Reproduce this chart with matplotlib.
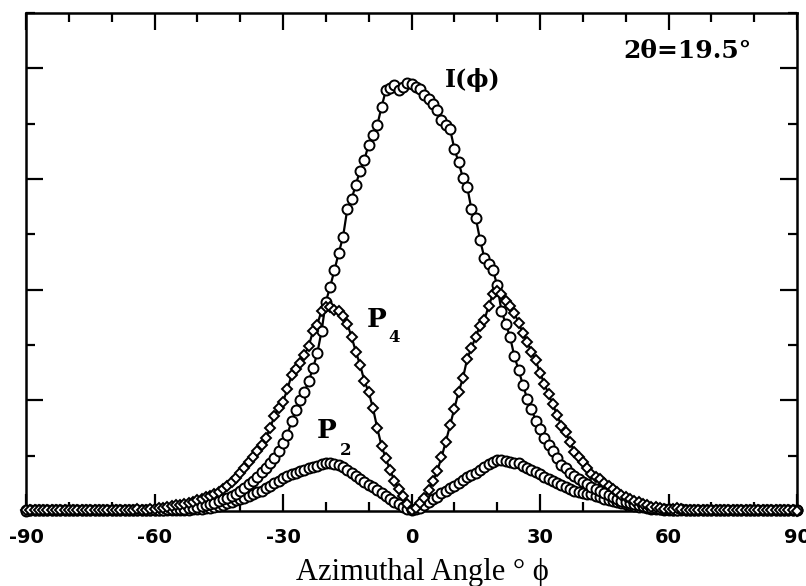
import numpy as np
import matplotlib
matplotlib.use("Agg")
import matplotlib.pyplot as plt
from matplotlib.ticker import MultipleLocator, NullFormatter

# ---------------- data ----------------
angles = np.arange(-90, 91, 1)  # azimuthal angle, degrees

intensity = [
    0.00, 0.02, 0.01, 0.02, 0.02, 0.01, 0.02, 0.02, 0.01, 0.02,   # -90..-81
    0.02, 0.01, 0.02, 0.02, 0.02, 0.01, 0.02, 0.02, 0.02, 0.01,   # -80..-71
    0.02, 0.02, 0.01, 0.02, 0.02, 0.02, 0.02, 0.01, 0.02, 0.02,   # -70..-61
    0.02, 0.02, 0.02, 0.03, 0.03, 0.03, 0.04, 0.04, 0.05, 0.06,   # -60..-51
    0.08, 0.09, 0.11, 0.13, 0.15, 0.18, 0.21, 0.24, 0.27, 0.31,   # -50..-41
    0.36, 0.42, 0.48, 0.55, 0.62, 0.70, 0.78, 0.86, 0.96, 1.08,   # -40..-31
    1.23, 1.38, 1.62, 1.82, 2.00, 2.15, 2.35, 2.58, 2.85, 3.25,   # -30..-21
    3.78, 4.05, 4.35, 4.66, 4.95, 5.45, 5.63, 5.90, 6.15, 6.35,   # -20..-11
    6.62, 6.80, 6.97, 7.30, 7.60, 7.65, 7.69, 7.60, 7.66, 7.73,   # -10..-1
    7.72, 7.67, 7.62, 7.52, 7.44, 7.35, 7.24, 7.06, 6.98, 6.90,   # 0..9
    6.55, 6.30, 6.02, 5.86, 5.45, 5.30, 4.90, 4.58, 4.47, 4.36,   # 10..19
    4.08, 3.62, 3.38, 3.15, 2.80, 2.55, 2.28, 2.03, 1.85, 1.63,   # 20..29
    1.48, 1.32, 1.20, 1.08, 0.96, 0.84, 0.77, 0.69, 0.63, 0.58,   # 30..39
    0.52, 0.48, 0.43, 0.40, 0.36, 0.33, 0.29, 0.26, 0.22, 0.18,   # 40..49
    0.16, 0.14, 0.12, 0.11, 0.09, 0.07, 0.06, 0.05, 0.04, 0.03,   # 50..59
    0.03, 0.02, 0.02, 0.03, 0.02, 0.02, 0.01, 0.02, 0.02, 0.02,   # 60..69
    0.01, 0.02, 0.02, 0.02, 0.01, 0.02, 0.02, 0.02, 0.01, 0.02,   # 70..79
    0.02, 0.02, 0.01, 0.02, 0.02, 0.02, 0.01, 0.02, 0.02, 0.02, 0.01,  # 80..90
]

p4 = [
    0.02, 0.01, 0.02, 0.02, 0.01, 0.02, 0.02, 0.02, 0.01, 0.02,   # -90..-81
    0.02, 0.02, 0.01, 0.02, 0.02, 0.02, 0.01, 0.02, 0.02, 0.02,   # -80..-71
    0.02, 0.01, 0.02, 0.02, 0.02, 0.02, 0.03, 0.02, 0.02, 0.03,   # -70..-61
    0.04, 0.05, 0.06, 0.07, 0.09, 0.10, 0.11, 0.12, 0.14, 0.16,   # -60..-51
    0.19, 0.22, 0.25, 0.28, 0.31, 0.35, 0.40, 0.46, 0.53, 0.60,   # -50..-41
    0.69, 0.77, 0.88, 0.98, 1.09, 1.20, 1.32, 1.50, 1.72, 1.87,   # -40..-31
    1.97, 2.20, 2.45, 2.56, 2.68, 2.82, 2.98, 3.25, 3.37, 3.62,   # -30..-21
    3.68, 3.68, 3.64, 3.62, 3.52, 3.38, 3.15, 2.88, 2.64, 2.35,   # -20..-11
    2.15, 1.86, 1.50, 1.18, 0.95, 0.74, 0.55, 0.40, 0.28, 0.12,   # -10..-1
    0.02, 0.06, 0.15, 0.24, 0.38, 0.54, 0.72, 0.97, 1.25, 1.55,   # 0..9
    1.85, 2.15, 2.40, 2.75, 2.95, 3.15, 3.35, 3.45, 3.70, 3.92,   # 10..19
    3.98, 3.92, 3.80, 3.70, 3.58, 3.40, 3.22, 3.05, 2.88, 2.72,   # 20..29
    2.50, 2.30, 2.11, 1.93, 1.73, 1.54, 1.42, 1.25, 1.07, 0.98,   # 30..39
    0.88, 0.78, 0.67, 0.62, 0.58, 0.50, 0.45, 0.39, 0.34, 0.29,   # 40..49
    0.25, 0.21, 0.18, 0.16, 0.13, 0.11, 0.08, 0.07, 0.05, 0.04,   # 50..59
    0.03, 0.04, 0.05, 0.03, 0.02, 0.02, 0.01, 0.02, 0.02, 0.02,   # 60..69
    0.02, 0.01, 0.02, 0.02, 0.02, 0.01, 0.02, 0.02, 0.02, 0.01,   # 70..79
    0.02, 0.02, 0.02, 0.01, 0.02, 0.02, 0.02, 0.01, 0.02, 0.02, 0.00,  # 80..90
]

p2 = [
    0.01, 0.01, 0.01, 0.01, 0.01, 0.01, 0.01, 0.01, 0.01, 0.01,   # -90..-81
    0.01, 0.01, 0.01, 0.01, 0.01, 0.01, 0.01, 0.01, 0.01, 0.01,   # -80..-71
    0.01, 0.01, 0.01, 0.01, 0.01, 0.01, 0.01, 0.01, 0.01, 0.01,   # -70..-61
    0.01, 0.01, 0.01, 0.01, 0.01, 0.01, 0.01, 0.01, 0.02, 0.03,   # -60..-51
    0.03, 0.04, 0.05, 0.06, 0.08, 0.09, 0.11, 0.14, 0.17, 0.19,   # -50..-41
    0.21, 0.24, 0.27, 0.30, 0.34, 0.37, 0.41, 0.45, 0.50, 0.55,   # -40..-31
    0.59, 0.63, 0.66, 0.69, 0.72, 0.74, 0.77, 0.80, 0.82, 0.85,   # -30..-21
    0.87, 0.87, 0.85, 0.83, 0.79, 0.74, 0.69, 0.64, 0.58, 0.53,   # -20..-11
    0.47, 0.43, 0.38, 0.33, 0.27, 0.22, 0.17, 0.12, 0.08, 0.04,   # -10..-1
    0.01, 0.03, 0.06, 0.11, 0.17, 0.22, 0.26, 0.32, 0.37, 0.41,   # 0..9
    0.46, 0.51, 0.56, 0.61, 0.65, 0.69, 0.75, 0.80, 0.85, 0.89,   # 10..19
    0.92, 0.92, 0.91, 0.89, 0.87, 0.86, 0.82, 0.78, 0.74, 0.70,   # 20..29
    0.66, 0.62, 0.58, 0.55, 0.51, 0.47, 0.43, 0.39, 0.37, 0.35,   # 30..39
    0.33, 0.31, 0.30, 0.27, 0.25, 0.22, 0.20, 0.18, 0.16, 0.15,   # 40..49
    0.12, 0.10, 0.09, 0.08, 0.07, 0.05, 0.04, 0.03, 0.03, 0.02,   # 50..59
    0.02, 0.01, 0.01, 0.01, 0.01, 0.01, 0.01, 0.01, 0.01, 0.01,   # 60..69
    0.01, 0.01, 0.01, 0.01, 0.01, 0.01, 0.01, 0.01, 0.01, 0.01,   # 70..79
    0.01, 0.01, 0.01, 0.01, 0.01, 0.01, 0.01, 0.01, 0.01, 0.01, 0.01,  # 80..90
]

xtick_values = [-90, -60, -30, 0, 30, 60, 90]
xtick_labels = ["-90", "-60", "-30", "0", "30", "60", "90"]

# ---------------- figure ----------------
W, H = 806, 586
fig = plt.figure(figsize=(W / 100, H / 100), dpi=100)
left_px, right_px, top_px, bottom_px = 26, 797, 13, 511
ax = fig.add_axes([left_px / W, 1 - bottom_px / H,
                   (right_px - left_px) / W, (bottom_px - top_px) / H])

line_kw = dict(color="black", linewidth=1.6, markeredgecolor="black",
               markerfacecolor="white", markeredgewidth=1.4, clip_on=False)
ax.plot(angles, p2, marker="o", markersize=7.2, zorder=3, **line_kw)
ax.plot(angles, intensity, marker="o", markersize=7.2, zorder=4, **line_kw)
ax.plot(angles, p4, marker="D", markersize=5.0, zorder=5, **line_kw)

ax.set_xlim(-90, 90)
ax.set_ylim(0, 9)

ax.set_xticks(xtick_values)
ax.set_xticklabels(xtick_labels)
ax.xaxis.set_minor_locator(MultipleLocator(10))
ax.yaxis.set_major_locator(MultipleLocator(2))
ax.yaxis.set_minor_locator(MultipleLocator(1))
ax.yaxis.set_major_formatter(NullFormatter())

ax.tick_params(which="both", direction="in", top=True, right=True,
               width=1.6, color="black")
ax.tick_params(which="major", length=12.5)
ax.tick_params(which="minor", length=6.5)
ax.tick_params(axis="x", which="major", pad=12)
for lab in ax.get_xticklabels():
    lab.set_fontfamily("DejaVu Sans")
    lab.set_fontweight("bold")
    lab.set_fontsize(14)

for sp in ax.spines.values():
    sp.set_linewidth(1.8)

def fig_text(x_px, y_px, s, **kw):
    fig.text(x_px / W, 1 - y_px / H, s, va="baseline", ha="left", **kw)

serif_bold = dict(family=["DejaVu Serif"], fontweight="bold")
fig_text(623, 58, "2θ=19.5°", fontsize=18, **serif_bold)
fig_text(445, 87, "I(ϕ)", fontsize=17, **serif_bold)
fig_text(367, 327, "P", fontsize=19, **serif_bold)
fig_text(388, 342, "4", fontsize=12, **serif_bold)
fig_text(317, 438, "P", fontsize=19, **serif_bold)
fig_text(340, 455, "2", fontsize=12, **serif_bold)

fig.text(422 / W, 1 - 580 / H, "Azimuthal Angle ° ϕ", ha="center", va="baseline",
         fontsize=22, family=["Liberation Serif", "DejaVu Serif"])

fig.savefig("out.png", dpi=100)
